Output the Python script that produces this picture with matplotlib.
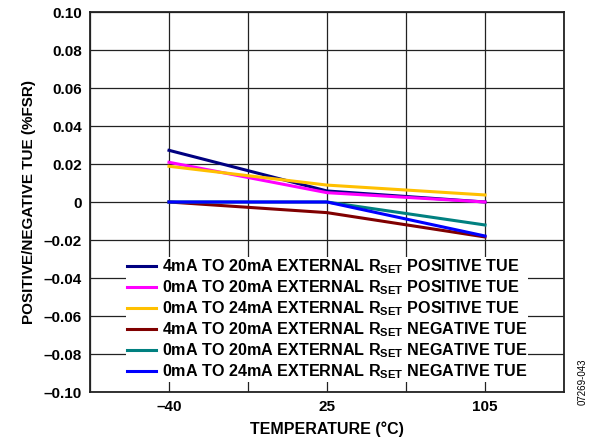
import matplotlib
matplotlib.use("Agg")
import matplotlib.pyplot as plt

plt.rcParams['font.family'] = ['Liberation Sans', 'DejaVu Sans']
plt.rcParams['font.weight'] = 'bold'
plt.rcParams['mathtext.fontset'] = 'custom'
plt.rcParams['mathtext.bf'] = 'Liberation Sans:bold'
plt.rcParams['mathtext.rm'] = 'Liberation Sans:bold'

# data
temps = ["–40", "25", "105"]
pos_4_20 = [0.0272, 0.0058, 0.0]
pos_0_20 = [0.0209, 0.0049, 0.0]
pos_0_24 = [0.0188, 0.0089, 0.0037]
neg_4_20 = [0.0, -0.0056, -0.0184]
neg_0_20 = [0.0, 0.0, -0.0121]
neg_0_24 = [0.0, 0.0, -0.0179]

yticks = [0.10, 0.08, 0.06, 0.04, 0.02, 0, -0.02, -0.04, -0.06, -0.08, -0.10]
ylabels = ["0.10", "0.08", "0.06", "0.04", "0.02", "0", "–0.02", "–0.04",
           "–0.06", "–0.08", "–0.10"]

series = [
    (pos_4_20, "#000080", "4mA TO 20mA EXTERNAL R$_{\\mathbf{SET}}$ POSITIVE TUE"),
    (pos_0_20, "#FF00FF", "0mA TO 20mA EXTERNAL R$_{\\mathbf{SET}}$ POSITIVE TUE"),
    (pos_0_24, "#FFC000", "0mA TO 24mA EXTERNAL R$_{\\mathbf{SET}}$ POSITIVE TUE"),
    (neg_4_20, "#800000", "4mA TO 20mA EXTERNAL R$_{\\mathbf{SET}}$ NEGATIVE TUE"),
    (neg_0_20, "#008080", "0mA TO 20mA EXTERNAL R$_{\\mathbf{SET}}$ NEGATIVE TUE"),
    (neg_0_24, "#0000FF", "0mA TO 24mA EXTERNAL R$_{\\mathbf{SET}}$ NEGATIVE TUE"),
]

fig = plt.figure(figsize=(5.93, 4.46), dpi=100)
ax = fig.add_axes([90 / 593, 1 - 392 / 446, 474 / 593, 380 / 446])

xpos = [1, 3, 5]
for vals, col, lab in series:
    ax.plot(xpos, vals, color=col, lw=2.2, label=lab, zorder=3)

ax.set_xlim(0, 6)
ax.set_ylim(-0.10, 0.10)
ax.set_xticks(range(0, 7))
ax.set_xticklabels(["", temps[0], "", temps[1], "", temps[2], ""])
ax.set_yticks(yticks)
ax.set_yticklabels(ylabels)
ax.tick_params(length=0, labelsize=11, pad=6)
ax.grid(True, color="#222222", lw=0.9)
for sp in ax.spines.values():
    sp.set_linewidth(1.3)
    sp.set_color("#222222")

ax.set_xlabel("TEMPERATURE (°C)", fontsize=11.5, fontweight="bold", labelpad=5)
ax.set_ylabel("POSITIVE/NEGATIVE TUE (%FSR)", fontsize=11, fontweight="bold", labelpad=5)

leg = ax.legend(loc="lower center", bbox_to_anchor=(0.5, 0.005), fontsize=11.6,
                frameon=True, framealpha=1, edgecolor="none", fancybox=False,
                handlelength=1.8, handletextpad=0.4, labelspacing=0.14,
                borderpad=0.05)
leg.set_zorder(5)

fig.text(583 / 593, 1 - 405 / 446, "07269-043", rotation=90, fontsize=7,
         fontweight="normal", ha="center", va="bottom")

fig.savefig("out.png", dpi=100)
